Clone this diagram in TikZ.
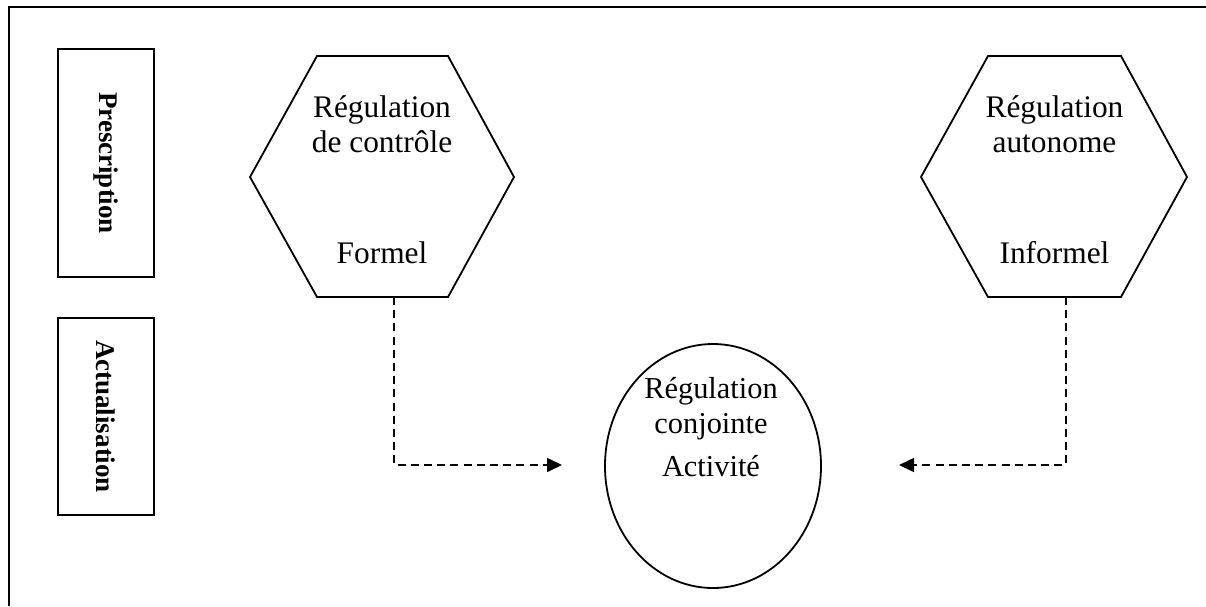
\documentclass[tikz,border=0pt]{standalone}
\usepackage{fontspec}
\setmainfont{Liberation Serif}
\usetikzlibrary{arrows.meta,shapes.geometric}
\begin{document}
\begin{tikzpicture}[x=0.5pt,y=-0.5pt,
  frame/.style={line width=1.1pt},
  shapeline/.style={line width=0.9pt},
  sidebox/.style={draw,line width=0.9pt,minimum width=48pt,minimum height=#1,inner sep=0pt,font=\fontsize{13.5}{16}\selectfont\bfseries},
  maintext/.style={font=\fontsize{15.7}{17.5}\selectfont,align=center,inner sep=0pt},
  elltext/.style={font=\fontsize{15.2}{17.5}\selectfont,align=center,inner sep=0pt},
  link/.style={line width=0.8pt,dash pattern=on 4pt off 2.6pt,-{Triangle[length=7.5pt,width=7pt]}}
]
\useasboundingbox (0,0) rectangle (1206,606);
% frame
\coordinate (ftl) at (9,7);
\coordinate (ftr) at (1206,7);
\coordinate (fbl) at (9,606);
\draw[frame] (ftr) -- (ftl) -- (fbl);
% side boxes
\node[sidebox=114pt] (pre) at (106,163) {\rotatebox{-90}{Prescription}};
\node[sidebox=98.5pt] (act) at (106,416.5) {\rotatebox{-90}{Actualisation}};
% hexagon 1
\coordinate (h1a) at (317,56);
\coordinate (h1b) at (448,56);
\coordinate (h1c) at (514,177);
\coordinate (h1d) at (448,297);
\coordinate (h1e) at (317,297);
\coordinate (h1f) at (250,177);
\draw[shapeline] (h1a) -- (h1b) -- (h1c) -- (h1d) -- (h1e) -- (h1f) -- cycle;
\node[maintext] (t1) at (382,180) {Régulation\\de contrôle\\[38pt]Formel};
% hexagon 2
\coordinate (h2a) at (988,56);
\coordinate (h2b) at (1121,56);
\coordinate (h2c) at (1187,177);
\coordinate (h2d) at (1121,297);
\coordinate (h2e) at (988,297);
\coordinate (h2f) at (921,177);
\draw[shapeline] (h2a) -- (h2b) -- (h2c) -- (h2d) -- (h2e) -- (h2f) -- cycle;
\node[maintext] (t2) at (1054.5,180) {Régulation\\autonome\\[38pt]Informel};
% ellipse
\node[draw,ellipse,shapeline,minimum width=108pt,minimum height=122pt,inner sep=0pt] (ell) at (713,466) {};
\node[elltext] (t3) at (711,427) {Régulation\\conjointe\\[4pt]Activité};
% connectors
\coordinate (s1) at (394,297);
\coordinate (s2) at (1066,297);
\coordinate (e1) at (562,465);
\coordinate (e2) at (899,465);
\draw[link] (s1) |- (e1);
\draw[link] (s2) |- (e2);
\end{tikzpicture}
\end{document}
